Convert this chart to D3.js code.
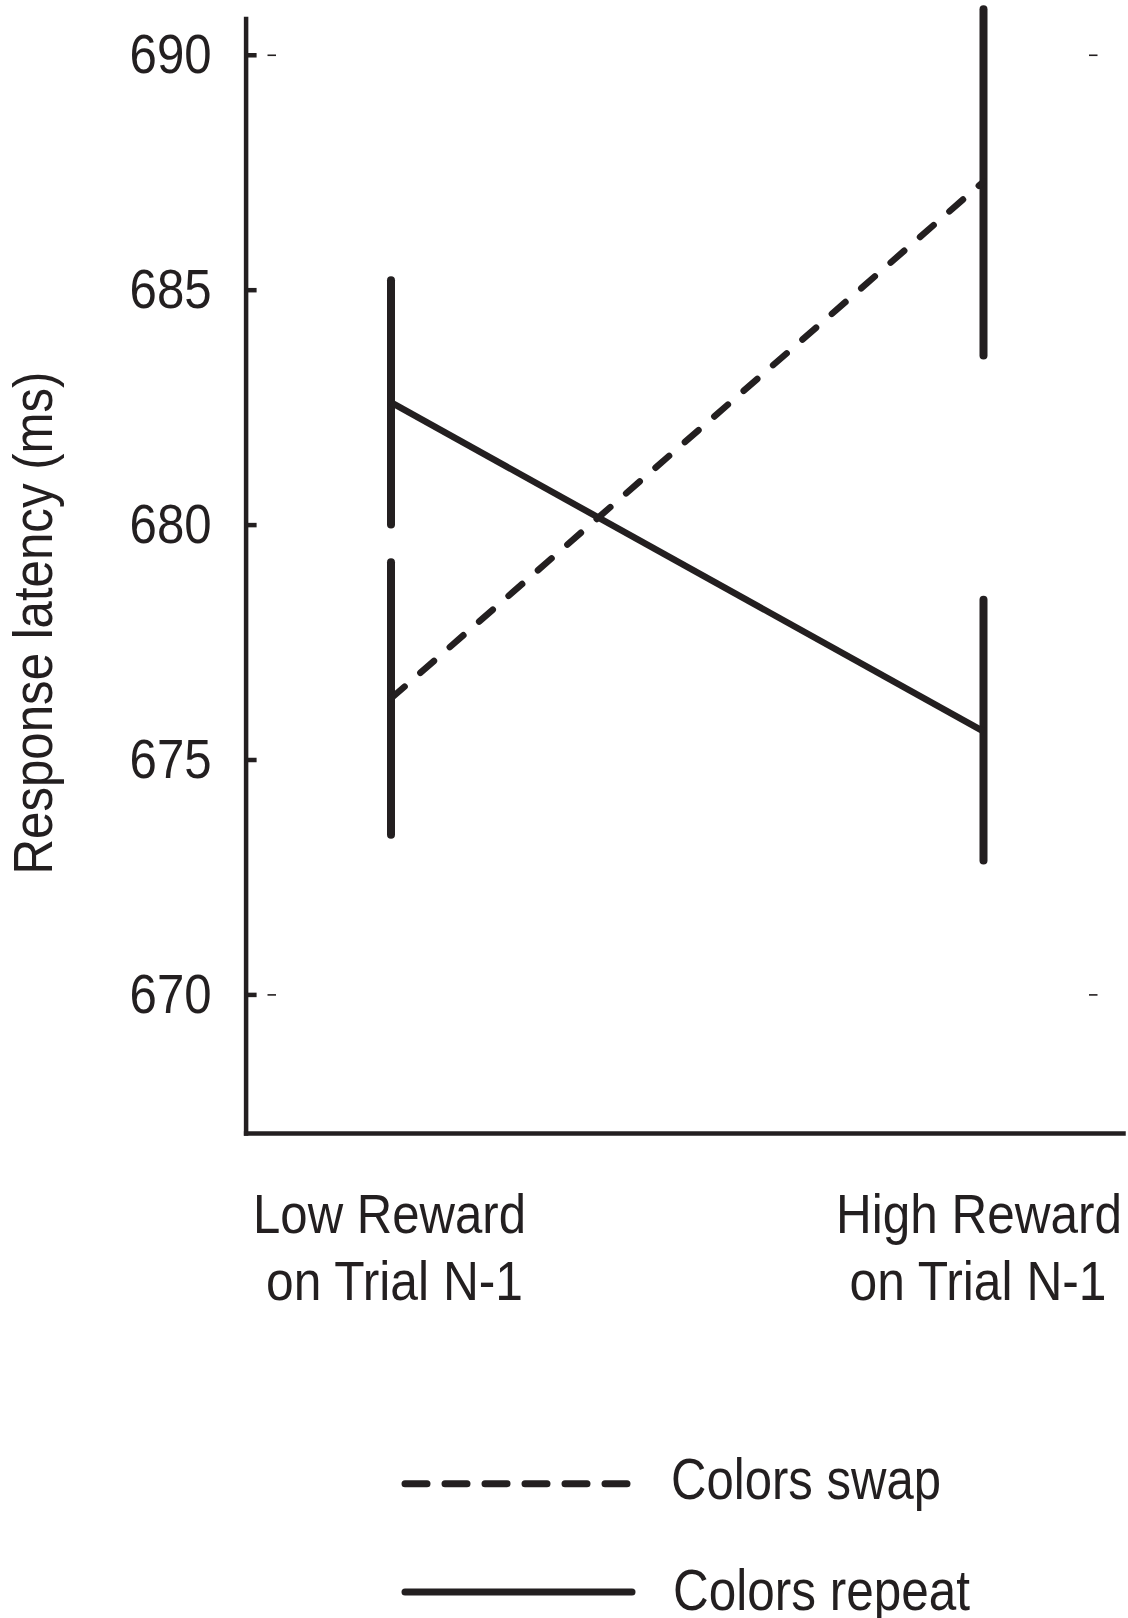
<!DOCTYPE html>
<html>
<head>
<meta charset="utf-8">
<script src="https://cdn.jsdelivr.net/npm/d3@7"></script>
<style>
  html, body { margin: 0; padding: 0; background: #fff; }
  svg { display: block; }
  text { font-family: "Liberation Sans", Arial, Helvetica, sans-serif; fill: #231f20; }
</style>
</head>
<body>
<svg id="chart" width="1128" height="1618"></svg>
<script>
// ---------------- data ----------------
const categories = ["Low Reward on Trial N-1", "High Reward on Trial N-1"];
const categoryLines = [["Low Reward", "on Trial N-1"], ["High Reward", "on Trial N-1"]];
const seriesNames = ["Colors swap", "Colors repeat"];
const swapMeans = [676.3, 687.3];
const swapLower = [673.4, 683.6];
const swapUpper = [679.2, 690.97];
const repeatMeans = [682.6, 675.6];
const repeatLower = [680.0, 672.85];
const repeatUpper = [685.2, 678.4];
const yTicks = [670, 675, 680, 685, 690];
const frameTicks = [670, 690];
const yLabel = "Response latency (ms)";
const yDomain = [667.05, 690.77];

// ---------------- styles ----------------
const ink = "#231f20";
const svg = d3.select("#chart");

const y = d3.scaleLinear().domain(yDomain).range([1133, 18.6]);
const x = d3.scalePoint().domain(categories).range([391, 983.5]);
const xAxisScale = d3.scaleLinear().domain([0, 1]).range([245.6, 1123]);

function fit(sel, width) {
  sel.attr("textLength", width).attr("lengthAdjust", "spacingAndGlyphs");
}

// y axis
const yAxisG = svg.append("g")
  .attr("transform", "translate(245.6,0)")
  .call(d3.axisLeft(y).tickValues(yTicks).tickSizeInner(-11).tickSizeOuter(0).tickPadding(34).tickFormat(d3.format("d")));
yAxisG.select(".domain").attr("stroke", ink).attr("stroke-width", 4.5).attr("stroke-linecap", "square");
yAxisG.selectAll(".tick line").attr("stroke", ink).attr("stroke-width", 4.5);
yAxisG.selectAll(".tick text")
  .attr("font-size", 56).attr("fill", ink)
  .style("font-family", '"Liberation Sans", Arial, sans-serif')
  .call(fit, 82);

// x axis line
const xAxisG = svg.append("g")
  .attr("transform", "translate(0,1133)")
  .call(d3.axisBottom(xAxisScale).ticks(0).tickSizeOuter(0));
xAxisG.select(".domain").attr("stroke", ink).attr("stroke-width", 4.5).attr("stroke-linecap", "square");
xAxisG.selectAll(".tick").remove();

// thin frame ticks
[267.5, 1089].forEach(px => {
  const g = svg.append("g").attr("transform", `translate(${px},0)`)
    .call(d3.axisRight(y).tickValues(frameTicks).tickSize(8.5).tickFormat(""));
  g.select(".domain").remove();
  g.selectAll(".tick line").attr("stroke", ink).attr("stroke-width", 1.6);
  g.selectAll(".tick text").remove();
});

// y label
svg.append("text")
  .attr("transform", "translate(51.5,623) rotate(-90)")
  .attr("text-anchor", "middle")
  .attr("font-size", 55)
  .text(yLabel)
  .call(fit, 503);

// x category labels
const lineWidths = [[273, 257], [286, 257]];
const lineShift = [[-1.5, 3.5], [-4.5, -5.5]];
categories.forEach((c, i) => {
  categoryLines[i].forEach((ln, j) => {
    svg.append("text")
      .attr("x", x(c) + lineShift[i][j])
      .attr("y", 1233 + j * 66.5)
      .attr("text-anchor", "middle")
      .attr("font-size", 55)
      .text(ln)
      .call(fit, lineWidths[i][j]);
  });
});

// error bars
const series = [
  { name: seriesNames[0], means: swapMeans, lo: swapLower, hi: swapUpper, dash: "18,21" },
  { name: seriesNames[1], means: repeatMeans, lo: repeatLower, hi: repeatUpper, dash: null }
];
series.forEach(s => {
  svg.append("g").selectAll("line")
    .data(categories)
    .join("line")
    .attr("x1", d => x(d)).attr("x2", d => x(d))
    .attr("y1", (d, i) => y(s.lo[i])).attr("y2", (d, i) => y(s.hi[i]))
    .attr("stroke", ink).attr("stroke-width", 8).attr("stroke-linecap", "round");
});

// lines
const lineGen = d3.line().x(d => x(d.c)).y(d => y(d.v));
series.forEach(s => {
  svg.append("path")
    .datum(categories.map((c, i) => ({ c, v: s.means[i] })))
    .attr("d", lineGen)
    .attr("fill", "none")
    .attr("stroke", ink)
    .attr("stroke-width", 6.5)
    .attr("stroke-linecap", s.dash ? "round" : "butt")
    .attr("stroke-dasharray", s.dash);
});

// legend
const legendY = [1483.7, 1592];
const legendTextY = [1499, 1610];
const legendTextX = [671, 673];
const legendTextW = [270, 297];
const legendDash = ["22,18", null];
series.forEach((s, i) => {
  svg.append("line")
    .attr("x1", 405).attr("x2", i === 0 ? 630 : 632)
    .attr("y1", legendY[i]).attr("y2", legendY[i])
    .attr("stroke", ink).attr("stroke-width", 7)
    .attr("stroke-linecap", "round")
    .attr("stroke-dasharray", legendDash[i]);
  svg.append("text")
    .attr("x", legendTextX[i]).attr("y", legendTextY[i])
    .attr("font-size", 58)
    .text(s.name)
    .call(fit, legendTextW[i]);
});
</script>
</body>
</html>
